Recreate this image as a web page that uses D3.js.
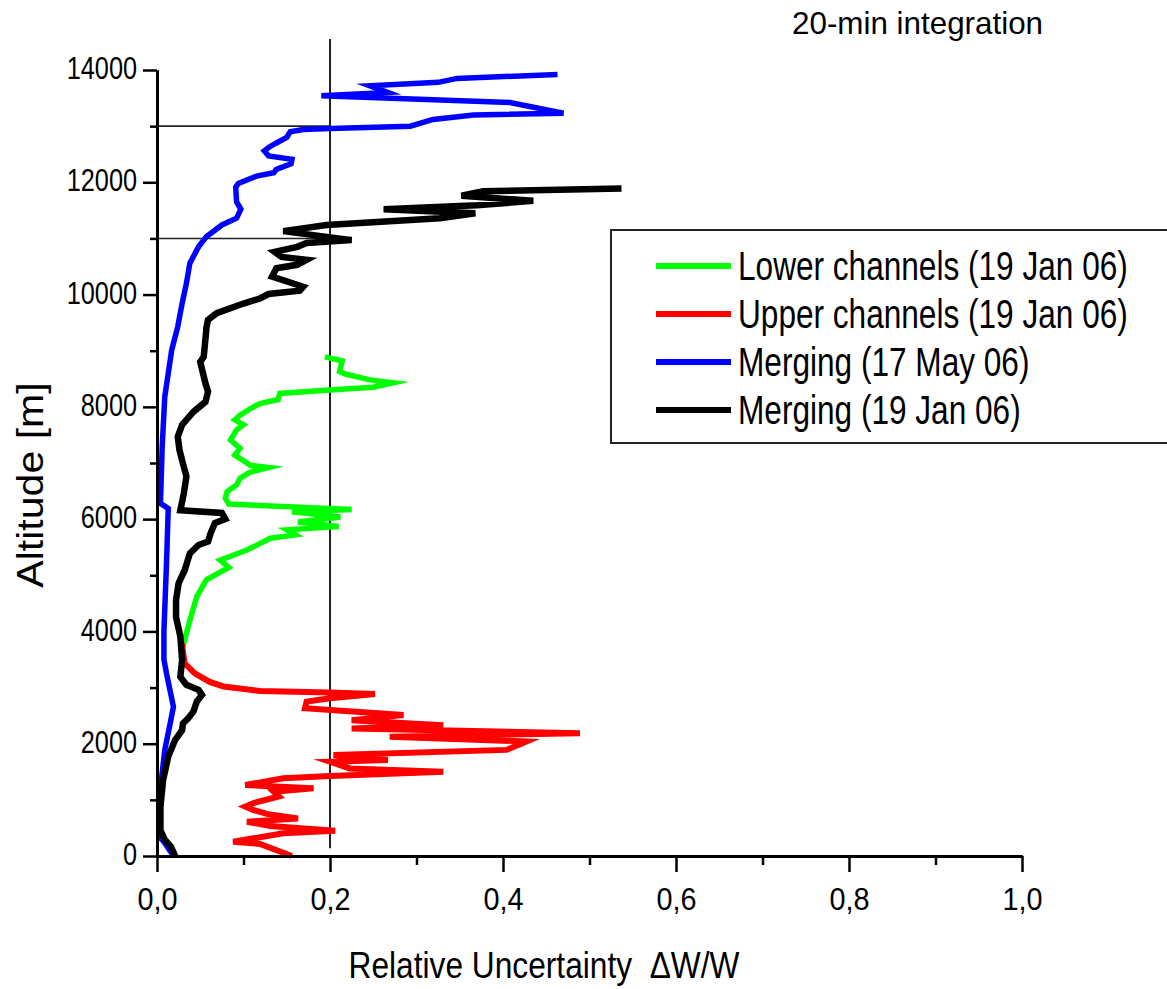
<!DOCTYPE html>
<html><head><meta charset="utf-8">
<script src="https://cdn.jsdelivr.net/npm/d3@7"></script>
<style>
body{margin:0;background:#fff}
svg{display:block;background:#fff}
text{font-family:"Liberation Sans",Arial,Helvetica,sans-serif;fill:#000}
</style>
</head><body>
<svg id="chart" width="1167" height="989"></svg>
<script>
// ---------- data ----------
const titleText = "20-min integration";
const xTitle = "Relative Uncertainty  \u0394W/W";
const yTitle = "Altitude [m]";
const xTicksMajor = [0, 0.2, 0.4, 0.6, 0.8, 1.0];
const xTicksMinor = [0.1, 0.3, 0.5, 0.7, 0.9];
const yTicksMajor = [0, 2000, 4000, 6000, 8000, 10000, 12000, 14000];
const yTicksMinor = [1000, 3000, 5000, 7000, 9000, 11000, 13000];
const refX = 0.2;
const refAltitudes = [13000, 11000];
const seriesNames = ["Lower channels (19 Jan 06)", "Upper channels (19 Jan 06)", "Merging (17 May 06)", "Merging (19 Jan 06)"];
const seriesColors = ["#00ff00", "#ff0000", "#0000ff", "#000000"];

// [relative uncertainty, altitude m]
const lowerJan = [[0.194,8890],[0.214,8820],[0.211,8630],[0.219,8580],[0.246,8480],[0.273,8430],[0.25,8350],[0.2,8300],[0.142,8240],[0.140,8130],[0.119,8060],[0.108,7970],[0.096,7850],[0.090,7770],[0.100,7680],[0.092,7590],[0.085,7410],[0.096,7260],[0.090,7140],[0.108,6960],[0.129,6920],[0.108,6840],[0.096,6730],[0.092,6610],[0.081,6490],[0.079,6370],[0.083,6270],[0.225,6170],[0.156,6130],[0.212,6040],[0.163,5950],[0.210,5870],[0.150,5810],[0.160,5720],[0.131,5660],[0.104,5450],[0.073,5270],[0.083,5140],[0.057,4920],[0.046,4620],[0.038,4200],[0.032,3850],[0.030,3730]];
const upperJan = [[0.027,3790],[0.029,3760],[0.032,3430],[0.044,3250],[0.061,3100],[0.077,3020],[0.119,2940],[0.2,2910],[0.252,2885],[0.2,2810],[0.173,2750],[0.171,2630],[0.285,2510],[0.225,2420],[0.331,2330],[0.225,2270],[0.489,2185],[0.269,2125],[0.427,2040],[0.404,1890],[0.204,1800],[0.267,1710],[0.2,1680],[0.223,1560],[0.331,1500],[0.2,1425],[0.146,1385],[0.102,1265],[0.181,1205],[0.135,1145],[0.141,1060],[0.111,940],[0.102,880],[0.111,820],[0.127,750],[0.163,670],[0.104,610],[0.131,535],[0.206,450],[0.146,405],[0.088,255],[0.119,215],[0.156,0]];
const mergingMay = [[0.463,13920],[0.347,13850],[0.325,13780],[0.246,13720],[0.267,13600],[0.19,13540],[0.408,13420],[0.470,13230],[0.366,13200],[0.319,13120],[0.293,13000],[0.2,12960],[0.169,12940],[0.154,12900],[0.150,12800],[0.138,12700],[0.129,12620],[0.124,12560],[0.129,12470],[0.156,12410],[0.155,12330],[0.138,12230],[0.135,12170],[0.115,12110],[0.094,11980],[0.091,11910],[0.092,11650],[0.097,11520],[0.092,11360],[0.075,11240],[0.057,11030],[0.048,10850],[0.038,10560],[0.034,10200],[0.029,9840],[0.024,9430],[0.017,9010],[0.009,8180],[0.006,7290],[0.004,6280],[0.013,6190],[0.011,5210],[0.008,4000],[0.008,3500],[0.011,3250],[0.019,2660],[0.016,2420],[0.009,1890],[0.005,1350],[0.002,760],[0.003,340],[0.009,230],[0.019,0]];
const mergingJan = [[0.537,11890],[0.377,11840],[0.352,11760],[0.435,11670],[0.370,11590],[0.262,11520],[0.368,11450],[0.327,11360],[0.196,11240],[0.146,11130],[0.225,10970],[0.173,10920],[0.162,10850],[0.136,10760],[0.144,10670],[0.173,10620],[0.162,10530],[0.138,10470],[0.133,10320],[0.169,10140],[0.165,10070],[0.129,10010],[0.119,9930],[0.100,9840],[0.069,9670],[0.059,9550],[0.057,9400],[0.057,9370],[0.054,8890],[0.050,8800],[0.056,8420],[0.059,8270],[0.056,8090],[0.042,7910],[0.029,7680],[0.024,7470],[0.026,7230],[0.030,6990],[0.034,6760],[0.031,6460],[0.027,6160],[0.075,6110],[0.079,6000],[0.067,5930],[0.062,5750],[0.059,5600],[0.048,5540],[0.038,5390],[0.032,5090],[0.025,4860],[0.022,4560],[0.022,4260],[0.027,3910],[0.029,3490],[0.027,3190],[0.034,3050],[0.048,2960],[0.052,2870],[0.046,2750],[0.042,2570],[0.036,2450],[0.030,2360],[0.029,2240],[0.021,2070],[0.013,1770],[0.007,1350],[0.004,880],[0.004,460],[0.009,290],[0.016,170],[0.021,0]];
const allSeries = [lowerJan, upperJan, mergingMay, mergingJan];

// ---------- layout ----------
const svg = d3.select("#chart");
const x = d3.scaleLinear().domain([0, 1]).range([157, 1022]);
const y = d3.scaleLinear().domain([0, 14000]).range([856, 70]);

function squeeze(sel, k) {
  sel.each(function () {
    const w = this.getComputedTextLength();
    this.setAttribute("textLength", w * k);
    this.setAttribute("lengthAdjust", "spacingAndGlyphs");
  });
}
const commaFmt = d => d3.format(".1f")(d).replace(".", ",");

// reference lines
svg.append("line")
  .attr("x1", x(refX)).attr("x2", x(refX))
  .attr("y1", y(14550)).attr("y2", y(140))
  .attr("stroke", "#222").attr("stroke-width", 2);
svg.selectAll("line.href").data(refAltitudes).enter().append("line")
  .attr("class", "href")
  .attr("x1", x(0)).attr("x2", x(refX))
  .attr("y1", d => y(d)).attr("y2", d => y(d))
  .attr("stroke", "#222").attr("stroke-width", 1.6);

// series
const line = d3.line().x(d => x(d[0])).y(d => y(d[1]));
const widths = [5.5, 6, 5.5, 6.5];
allSeries.forEach((s, i) => {
  svg.append("path").datum(s)
    .attr("d", line)
    .attr("fill", "none")
    .attr("stroke", seriesColors[i])
    .attr("stroke-width", widths[i])
    .attr("stroke-linejoin", "miter")
    .attr("stroke-miterlimit", 6);
});

// axes
const yMajor = svg.append("g").attr("transform", `translate(${x(0)},0)`)
  .call(d3.axisLeft(y).tickValues(yTicksMajor).tickSize(14).tickSizeOuter(0).tickPadding(6).tickFormat(d3.format("d")));
const yMinor = svg.append("g").attr("transform", `translate(${x(0)},0)`)
  .call(d3.axisLeft(y).tickValues(yTicksMinor).tickSize(7).tickSizeOuter(0).tickFormat(""));
const xMajor = svg.append("g").attr("transform", `translate(0,${y(0)})`)
  .call(d3.axisBottom(x).tickValues(xTicksMajor).tickSize(16).tickSizeOuter(0).tickFormat(commaFmt));
const xMinor = svg.append("g").attr("transform", `translate(0,${y(0)})`)
  .call(d3.axisBottom(x).tickValues(xTicksMinor).tickSize(9).tickSizeOuter(0).tickFormat(""));
[yMajor, yMinor, xMajor, xMinor].forEach(g => {
  g.selectAll("path.domain").attr("stroke", "#000").attr("stroke-width", 3);
  g.selectAll(".tick line").attr("stroke", "#000").attr("stroke-width", 2.5);
  g.selectAll("text").attr("font-family", null);
});
yMajor.selectAll("text").attr("font-size", 32).attr("dy", "0.27em").call(squeeze, 0.79);
xMajor.selectAll("text").attr("font-size", 32).attr("y", 54).attr("dy", 0).call(squeeze, 0.9);

// title
svg.append("text").attr("x", 792).attr("y", 34).attr("font-size", 32)
  .text(titleText).call(squeeze, 0.98);

// axis titles
svg.append("text").attr("x", 544).attr("y", 978).attr("font-size", 36)
  .attr("text-anchor", "middle").attr("xml:space", "preserve")
  .text(xTitle).call(squeeze, 0.88);

svg.append("text").attr("transform", "translate(43,485) rotate(-90)")
  .attr("text-anchor", "middle").attr("font-size", 36)
  .text(yTitle).call(squeeze, 1.14);

// legend
svg.append("rect").attr("x", 611).attr("y", 230).attr("width", 600).attr("height", 213)
  .attr("fill", "#fff").attr("stroke", "#222").attr("stroke-width", 2);
const leg = svg.selectAll("g.leg").data(seriesNames).enter().append("g")
  .attr("class", "leg")
  .attr("transform", (d, i) => `translate(0,${280 + i * 48})`);
leg.append("line").attr("x1", 656).attr("x2", 731).attr("y1", -14).attr("y2", -14)
  .attr("stroke", (d, i) => seriesColors[i]).attr("stroke-width", 6);
leg.append("text").attr("x", 0).attr("y", 0).attr("font-size", 40)
  .attr("transform", "translate(738,0) scale(0.79,1)")
  .text(d => d);
</script>
</body></html>
